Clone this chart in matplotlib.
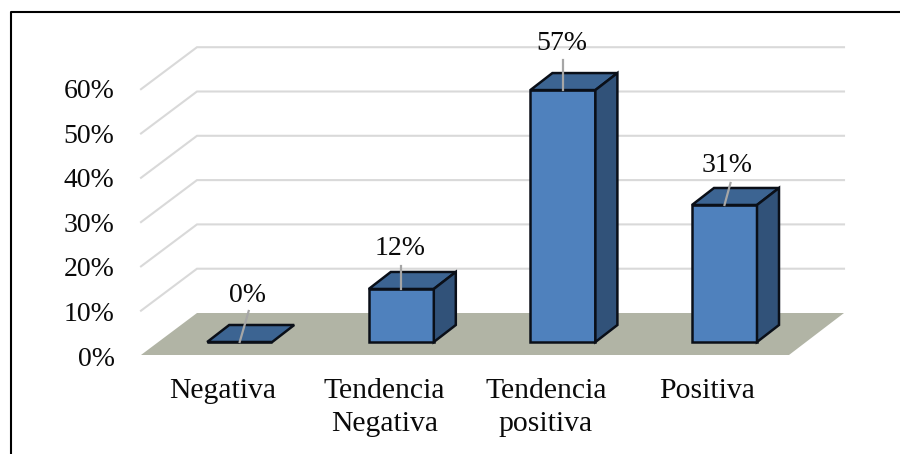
import matplotlib
matplotlib.use("Agg")
import matplotlib.pyplot as plt
from matplotlib.lines import Line2D

categories = ["Negativa", "Tendencia\nNegativa", "Tendencia\npositiva", "Positiva"]
values = [0, 12, 57, 31]
value_labels = ["0%", "12%", "57%", "31%"]
grid_values = [0, 10, 20, 30, 40, 50, 60]
grid_labels = ["0%", "10%", "20%", "30%", "40%", "50%", "60%"]

W, H = 900, 454
PX_X = 161.6          # pixels per category
PX_Y = 4.42           # pixels per percentage point
X0, Y0 = 239.7, 342.0 # pixel of first category centre, zero line
FONT = "Liberation Serif"

plt.rcParams["font.family"] = FONT
fig = plt.figure(figsize=(W / 100, H / 100), dpi=100, facecolor="white")
ax = fig.add_axes([0, 0, 1, 1])
ax.set_xlim(-X0 / PX_X, (W - X0) / PX_X)
ax.set_ylim((Y0 - H) / PX_Y, Y0 / PX_Y)
ax.axis("off")

def ux(px):
    return px / PX_X

def uy(px):
    return px / PX_Y

# frame
fig.add_artist(Line2D([10.5 / W, 10.5 / W, 1], [0, 1 - 11.5 / H, 1 - 11.5 / H],
                      color="black", lw=1.5, transform=fig.transFigure))

# wall geometry
left_front = ux(141 - X0)
left_back = ux(197 - X0)
right_back = ux(844 - X0)
right_front = ux(789 - X0)
floor_front = uy(Y0 - 355)
wall_dy = uy(42)

# gridlines and value-axis labels
for v, lab in zip(grid_values, grid_labels):
    y = floor_front + v * 4.43 / PX_Y
    if v > 0:
        ax.plot([left_front, left_back, right_back],
                [y, y + wall_dy, y + wall_dy],
                color="#d9d9d9", lw=1.5, solid_joinstyle="miter", zorder=1)
    ax.text(ux(114.5 - X0), uy(Y0 - 359) + v * 4.45 / PX_Y, lab, ha="right", va="center",
            fontsize=20, color="#0a0a0a", zorder=5)

# floor
ax.fill([left_front, left_back, right_back, right_front],
        [floor_front, floor_front + wall_dy, floor_front + wall_dy, floor_front],
        color="#b1b4a5", lw=0, zorder=2)

# bars
bar_w = 65 / PX_X
dx, dy = ux(22), uy(17)
xpos = list(range(len(values)))
ax.bar(xpos, values, width=bar_w, color="#4f81bd", edgecolor="#0a0f18",
       linewidth=1.8, zorder=4)
for x, v in zip(xpos, values):
    l, r = x - bar_w / 2, x + bar_w / 2
    ax.fill([l, r, r + dx, l + dx], [v, v, v + dy, v + dy],
            facecolor="#3c6492", edgecolor="#0a0f18", lw=1.8, joinstyle="miter", zorder=4)
    if v > 0:
        ax.fill([r, r + dx, r + dx, r], [0, dy, v + dy, v],
                facecolor="#315279", edgecolor="#0a0f18", lw=1.8, joinstyle="miter", zorder=4)

# data labels and leader lines
label_dx = [8, -1.5, -1.5, 3]
label_dy = [47, 40, 47, 39]
leader_dx = [9, 0, 0, 6]
leader_dy = [31, 23, 30, 22]
for x, v, lab, ldx, ldy, lnx, lny in zip(xpos, values, value_labels, label_dx, label_dy, leader_dx, leader_dy):
    ax.plot([x, x + ux(lnx)], [v, v + uy(lny)], color="#a6a6a6", lw=1.6, zorder=6)
    ax.text(x + ux(ldx), v + uy(ldy), lab, ha="center", va="center",
            fontsize=20, color="#0a0a0a", zorder=7)

# category labels
for x, lab in zip(xpos, categories):
    ax.text(x - ux(17), uy(Y0 - 378), lab, ha="center", va="top",
            fontsize=21.4, color="#0a0a0a", linespacing=1.34, zorder=7)

fig.savefig("out.png", dpi=100, facecolor="white")
